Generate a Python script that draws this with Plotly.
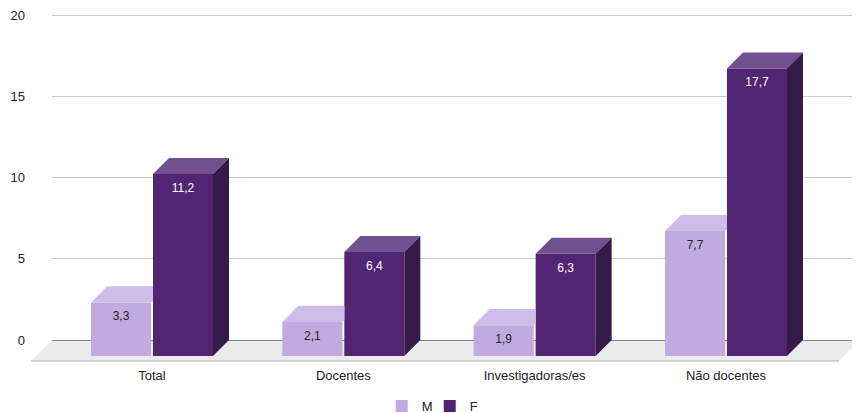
import plotly.graph_objects as go

# ---------------- data ----------------
categories = ["Total", "Docentes", "Investigadoras/es", "Não docentes"]
values_m = [3.3, 2.1, 1.9, 7.7]
values_f = [11.2, 6.4, 6.3, 17.7]
series_names = ["M", "F"]
y_ticks = [0, 5, 10, 15, 20]

# ---------------- styling / geometry ----------------
# page has an 8px body margin, so the figure is 8px smaller each way
W, H = 852, 405
M_L, M_R, M_T, M_B = 44, 0, 2, 51
X_RANGE = [-0.5227, 3.7004]
Y_RANGE = [-1.354, 20.308]
DX, DY = 0.0836, 0.985          # bar depth (x units, y units)
FLOOR_DX, FLOOR_DY = 0.1098, 1.292
BAR_W = 0.3136
OFF_M, OFF_F = -0.3188, 0.0052
LABEL_DROP = 0.554              # value label offset below the bar's top edge

C_M_FRONT, C_M_TOP = "#c1aae0", "#cebde9"
C_F_FRONT, C_F_TOP, C_F_SIDE = "#512572", "#71508f", "#351b4a"
FONT = "Arial, Liberation Sans, sans-serif"

idx = list(range(len(categories)))


def to_paper_x(x):
    return (x - X_RANGE[0]) / (X_RANGE[1] - X_RANGE[0])


def to_paper_y(y):
    return (y - Y_RANGE[0]) / (Y_RANGE[1] - Y_RANGE[0])


def add_poly(xs, ys, pts):
    for px, py in pts:
        xs.append(px)
        ys.append(py)
    xs.append(pts[0][0]); ys.append(pts[0][1])
    xs.append(None); ys.append(None)


def fmt(v):
    return ("%.1f" % v).replace(".", ",")


# top faces of M (clipped where the F front face hides them)
mt_x, mt_y = [], []
for i, vm, vf in zip(idx, values_m, values_f):
    x0 = i + OFF_M
    x1 = x0 + BAR_W
    xc = i + OFF_F
    t = vm - DY
    if vf - DY >= vm and x1 + DX > xc:
        f = (xc - x1) / DX
        pts = [(x0, t), (x1, t), (xc, t + f * DY), (xc, vm), (x0 + DX, vm)]
    else:
        pts = [(x0, t), (x1, t), (x1 + DX, vm), (x0 + DX, vm)]
    add_poly(mt_x, mt_y, pts)

# top and side faces of F
ft_x, ft_y, fs_x, fs_y = [], [], [], []
for i, vf in zip(idx, values_f):
    x0 = i + OFF_F
    x1 = x0 + BAR_W
    t = vf - DY
    add_poly(ft_x, ft_y, [(x0, t), (x1, t), (x1 + DX, vf), (x0 + DX, vf)])
    add_poly(fs_x, fs_y, [(x1, -DY), (x1, t), (x1 + DX, vf), (x1 + DX, 0)])

fig = go.Figure()

fig.add_trace(go.Bar(
    name=series_names[0], x=idx, y=values_m, base=-DY,
    offset=OFF_M, width=BAR_W,
    marker=dict(color=C_M_FRONT, line=dict(width=0)),
    hoverinfo="skip",
))
fig.add_trace(go.Bar(
    name=series_names[1], x=idx, y=values_f, base=-DY,
    offset=OFF_F, width=BAR_W,
    marker=dict(color=C_F_FRONT, line=dict(width=0)),
    hoverinfo="skip",
))

for xs, ys, col in [(mt_x, mt_y, C_M_TOP), (ft_x, ft_y, C_F_TOP), (fs_x, fs_y, C_F_SIDE)]:
    fig.add_trace(go.Scatter(
        x=xs, y=ys, mode="lines", fill="toself", fillcolor=col,
        line=dict(width=0, color=col), showlegend=False, hoverinfo="skip",
    ))

# value labels inside the front faces
for vals, off, col in [(values_m, OFF_M, "#222222"), (values_f, OFF_F, "#ffffff")]:
    fig.add_trace(go.Scatter(
        x=[i + off + BAR_W / 2 for i in idx],
        y=[v - DY - LABEL_DROP for v in vals],
        mode="text", text=[fmt(v) for v in vals], textposition="bottom center",
        textfont=dict(color=col, size=12, family=FONT),
        showlegend=False, hoverinfo="skip", cliponaxis=False,
    ))

# floor (paper coords so it can extend left of the plot area)
bl = (to_paper_x(X_RANGE[0]), to_paper_y(0))
br = (to_paper_x(X_RANGE[1]), to_paper_y(0))
fl = (to_paper_x(X_RANGE[0] - FLOOR_DX), to_paper_y(-FLOOR_DY))
fr = (to_paper_x(X_RANGE[1] - FLOOR_DX), to_paper_y(-FLOOR_DY))
floor_path = "M {} {} L {} {} L {} {} L {} {} Z".format(bl[0], bl[1], br[0], br[1], fr[0], fr[1], fl[0], fl[1])
fig.add_shape(type="path", path=floor_path, xref="paper", yref="paper",
              fillcolor="#ebebeb", line=dict(width=0), layer="below")
fig.add_shape(type="line", xref="paper", yref="paper", x0=fl[0], y0=fl[1], x1=fr[0], y1=fr[1],
              line=dict(color="#b5b5b5", width=1), layer="below")

fig.update_layout(
    width=W, height=H,
    margin=dict(l=M_L, r=M_R, t=M_T, b=M_B, autoexpand=False),
    paper_bgcolor="white", plot_bgcolor="rgba(0,0,0,0)",
    separators=",.",
    barmode="overlay",
    font=dict(family=FONT, size=13, color="#222222"),
    showlegend=True,
    legend=dict(orientation="h", xref="container", yref="container",
                x=0.495, xanchor="center", y=0.0173, yanchor="middle",
                entrywidth=3, entrywidthmode="pixels",
                font=dict(size=13, color="#222222"), traceorder="normal"),
    xaxis=dict(range=X_RANGE, tickvals=idx, ticktext=categories, showgrid=False,
               zeroline=False, showline=False, ticks="", ticklabelstandoff=4,
               tickangle=0, automargin=False, fixedrange=True),
    yaxis=dict(range=Y_RANGE, tickvals=y_ticks, showgrid=True, gridcolor="#cccccc",
               gridwidth=1, zeroline=True, zerolinecolor="#888888", zerolinewidth=1,
               showline=False, ticks="", ticklabelstandoff=26,
               ticklabeloverflow="allow", automargin=False, fixedrange=True),
)

fig.write_html("out.html")
